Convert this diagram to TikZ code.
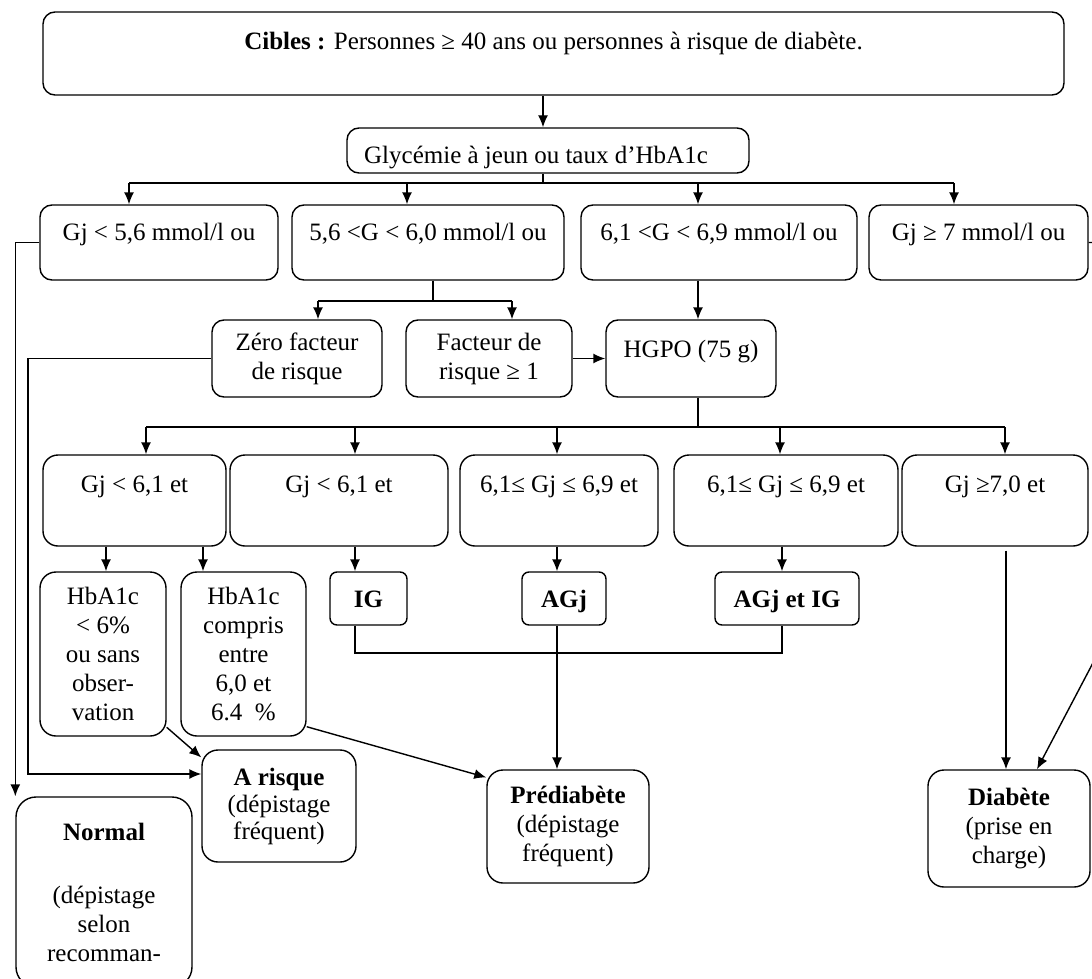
\documentclass[tikz,border=0pt]{standalone}
\usepackage{fontspec}
\setmainfont{Liberation Serif}
\usetikzlibrary{arrows.meta}

\begin{document}
\begin{tikzpicture}[x=0.5pt,y=-0.5pt,line width=0.7pt,
    font=\fontsize{12.5}{14.5}\selectfont,
    boite/.style={draw, rounded corners=6pt, align=center, inner sep=0pt},
    haut/.style={text height=9pt, text depth=#1},
    fleche/.style={-{Latex[length=6pt,width=5pt]}}]
  \useasboundingbox (0,0) rectangle (1092,979);

  % cibles et glycemie
  \node[boite, haut=12.5pt, minimum width=510.5pt, minimum height=41.5pt] (cibles) at (553.5,53.5)
    {\textbf{Cibles :} Personnes ≥ 40 ans ou personnes à risque de diabète.};
  \node[boite, text height=16pt, text depth=3.5pt, minimum width=201pt, minimum height=22.5pt] (glyc) at (548,150.5)
    {Glycémie à jeun ou taux d’HbA1c\kern12pt};

  % niveau 2
  \node[boite, haut=11.5pt, minimum width=119pt, minimum height=37.5pt] (ga) at (159,242.5) {Gj < 5,6 mmol/l ou};
  \node[boite, haut=11.5pt, minimum width=136pt, minimum height=37.5pt] (gb) at (428,242.5) {5,6 <G < 6,0 mmol/l ou};
  \node[boite, haut=11.5pt, minimum width=138pt, minimum height=37.5pt] (gc) at (719,242.5) {6,1 <G < 6,9 mmol/l ou};
  \node[boite, haut=11.5pt, minimum width=109.5pt, minimum height=37.5pt] (gd) at (978.5,242.5) {Gj ≥ 7 mmol/l ou};

  % niveau 3
  \node[boite, minimum width=85pt, minimum height=38.5pt] (zero) at (297,358.5) {Zéro facteur\\de risque};
  \node[boite, minimum width=83pt, minimum height=38.5pt] (fact) at (489,358.5) {Facteur de\\risque ≥ 1};
  \node[boite, haut=10.5pt, minimum width=85pt, minimum height=38.5pt] (hgpo) at (691,358.5) {HGPO (75 g)};

  % niveau 4
  \node[boite, haut=17.5pt, rounded corners=7.5pt, minimum width=91.5pt, minimum height=45.5pt] (h1) at (134.5,500.5) {Gj < 6,1 et};
  \node[boite, haut=17.5pt, rounded corners=7.5pt, minimum width=109pt, minimum height=45.5pt] (h2) at (339,500.5) {Gj < 6,1 et};
  \node[boite, haut=17.5pt, rounded corners=7.5pt, minimum width=99pt, minimum height=45.5pt] (h3) at (559,500.5) {6,1≤ Gj ≤ 6,9 et};
  \node[boite, haut=17.5pt, rounded corners=7.5pt, minimum width=112pt, minimum height=45.5pt] (h4) at (786,500.5) {6,1≤ Gj ≤ 6,9 et};
  \node[boite, haut=17.5pt, rounded corners=7.5pt, minimum width=93pt, minimum height=45.5pt] (h5) at (995,500.5) {Gj ≥7,0 et};

  % niveau 5
  \node[boite, rounded corners=8pt, minimum width=63pt, minimum height=82pt] (hb1) at (103,654)
    {HbA1c\\< 6\%\\ou sans\\obser-\\vation};
  \node[boite, rounded corners=8pt, minimum width=62.5pt, minimum height=82pt] (hb2) at (243.5,654)
    {HbA1c\\compris\\entre\\6,0 et\\6.4\ \ \%};
  \node[boite, haut=0.5pt, rounded corners=3.5pt, minimum width=38.5pt, minimum height=26.5pt] (ig) at (368.5,598.5) {\textbf{IG}};
  \node[boite, haut=0.5pt, rounded corners=3.5pt, minimum width=42pt, minimum height=26.5pt] (agj) at (564,598.5) {\textbf{AGj}};
  \node[boite, haut=0.5pt, rounded corners=3.5pt, minimum width=72pt, minimum height=26.5pt] (agjig) at (787,598.5) {\textbf{AGj et IG}};

  % resultats
  \node[boite, rounded corners=8pt, font=\fontsize{12.5}{13.5}\selectfont, minimum width=77pt, minimum height=56pt] (arisk) at (279,806)
    {\textbf{A risque}\\(dépistage\\fréquent)};
  \node[boite, rounded corners=8pt, minimum width=81pt, minimum height=56.5pt] (pre) at (568,826.5)
    {\textbf{Prédiabète}\\(dépistage\\fréquent)};
  \node[boite, rounded corners=8pt, minimum width=81pt, minimum height=58.5pt] (diab) at (1009,828.5)
    {\textbf{Diabète}\\(prise en\\charge)};
  \node[boite, rounded corners=10pt, minimum width=88pt, minimum height=95pt] (normal) at (104,892)
    {\textbf{Normal}\\[17pt](dépistage\\selon\\recomman-};

  % fleches du haut
  \draw[fleche] (cibles.south -| 543,0) -- (glyc.north -| 543,0);
  \draw (glyc.south -| 543,0) -- (543,183) coordinate (bus1);
  \draw (bus1 -| 129,0) -- (bus1 -| 954,0);
  \foreach \X/\N in {129/ga,407/gb,698/gc,954/gd}
    \draw[fleche] (bus1 -| \X,0) -- (\N.north -| \X,0);

  % 5,6 < G < 6,0
  \draw (gb.south -| 433,0) -- (433,301) coordinate (bus2);
  \draw (bus2 -| 318,0) -- (bus2 -| 512,0);
  \foreach \X/\N in {318/zero,512/fact}
    \draw[fleche] (bus2 -| \X,0) -- (\N.north -| \X,0);
  \draw[fleche] (gc.south -| 698,0) -- (hgpo.north -| 698,0);
  \draw[fleche] (fact) -- (hgpo);

  % retours a gauche
  \draw[fleche] (zero.west) -| (28,774) -- (arisk.west |- 0,774);
  \draw[fleche] (ga.west) -| (normal.north west);

  % HGPO
  \draw (hgpo.south -| 698,0) -- (698,427) coordinate (bus3);
  \draw (bus3 -| 146,0) -- (bus3 -| 1005,0);
  \foreach \X/\N in {146/h1,355/h2,557/h3,780/h4,1005/h5}
    \draw[fleche] (bus3 -| \X,0) -- (\N.north -| \X,0);

  \foreach \X/\A/\B in {106/h1/hb1,203/h1/hb2,355/h2/ig,557/h3/agj,782/h4/agjig}
    \draw[fleche] (\A.south -| \X,0) -- (\B.north -| \X,0);

  % vers les resultats
  \draw (ig.south -| 355,0) -- (355,653) -| (agjig.south -| 782,0);
  \draw[fleche] (agj.south -| 557,0) -- (pre.north -| 557,0);
  \draw[fleche] (hb1.-49) -- (arisk.148);
  \draw[fleche] (hb2.-49) -- (pre.149);
  \draw[fleche, shorten <=2pt] (h5.south -| 1006,0) -- (diab.north -| 1006,0);
  \draw[fleche] (gd.east) -- (1105,242.5) -- (1105,640) -- ([xshift=14pt]diab.north);
\end{tikzpicture}
\end{document}
